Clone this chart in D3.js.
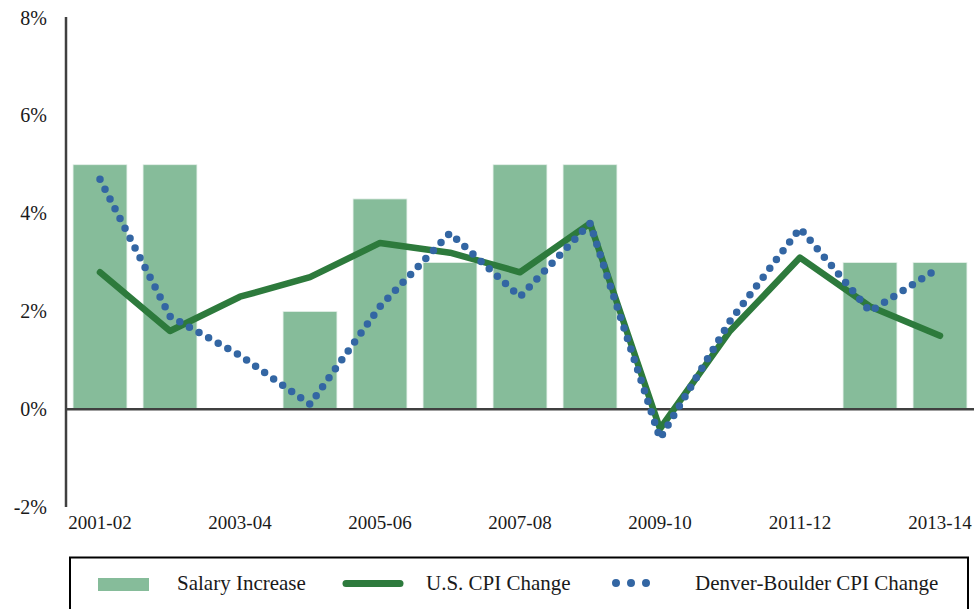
<!DOCTYPE html>
<html><head><meta charset="utf-8">
<script src="https://cdn.jsdelivr.net/npm/d3@7"></script>
<style>body{margin:0;background:#fff;} text{font-family:"Liberation Serif","DejaVu Serif",serif;fill:#1a1a1a;}</style>
</head><body><svg id="c" width="974" height="609"></svg>
<script>
const categories = ["2001-02","2002-03","2003-04","2004-05","2005-06","2006-07","2007-08","2008-09","2009-10","2010-11","2011-12","2012-13","2013-14"];
const salaryIncrease = [5,5,0,2,4.3,3,5,5,0,0,0,3,3];
const usCPI = [2.8,1.6,2.3,2.7,3.4,3.2,2.8,3.8,-0.4,1.6,3.1,2.1,1.5];
const denverCPI = [4.7,1.9,1.1,0.1,2.1,3.6,2.3,3.8,-0.6,1.8,3.7,2.0,2.9];
const yTicks = [-2,0,2,4,6,8];
const xTickLabels = ["2001-02","2003-04","2005-06","2007-08","2009-10","2011-12","2013-14"];

const svg = d3.select("#c");
const x = d3.scaleBand().domain(categories).range([65,975]).paddingInner(0.23).paddingOuter(0.115);
const xc = d => x(d) + x.bandwidth()/2;
const y = d3.scaleLinear().domain([-2,8]).range([507,18]);

// bars
svg.append("g").selectAll("rect").data(categories.map((c,i)=>({c,v:salaryIncrease[i]})).filter(d=>d.v>0))
 .join("rect").attr("x",d=>x(d.c)).attr("width",x.bandwidth())
 .attr("y",d=>y(d.v)).attr("height",d=>y(0)-y(d.v))
 .attr("fill","#86bc9a").attr("stroke","#e6f0ea").attr("stroke-width",0.8);

// y axis
const ya = d3.axisLeft(y).tickValues(yTicks).tickFormat(d=>d+"%").tickSize(0).tickPadding(19);
const yg = svg.append("g").attr("transform","translate(66,0)").call(ya);
yg.select(".domain").attr("stroke","#404040").attr("stroke-width",2.5).attr("d","M0,17V507");
yg.selectAll("text").attr("font-size",20).attr("fill","#1a1a1a").attr("font-family","Liberation Serif").attr("dy","0.3em");

// zero line
svg.append("line").attr("x1",65).attr("x2",975).attr("y1",y(0)).attr("y2",y(0)).attr("stroke","#404040").attr("stroke-width",2.5);

// x axis labels
const xa = d3.axisBottom(x).tickValues(xTickLabels).tickSize(0).tickPadding(0);
const xg = svg.append("g").attr("transform","translate(0,514)").call(xa);
xg.select(".domain").remove();
xg.selectAll("text").attr("font-size",19).attr("fill","#1a1a1a").attr("font-family","Liberation Serif").attr("dy","0.8em");

const line = d3.line().x((d,i)=>xc(categories[i])).y(d=>y(d));
svg.append("path").datum(usCPI).attr("d",line).attr("fill","none").attr("stroke","#2d7a3c").attr("stroke-width",6.5).attr("stroke-linejoin","round").attr("stroke-linecap","round");
svg.append("path").datum(denverCPI).attr("d",line).attr("fill","none").attr("stroke","#3366a3").attr("stroke-width",7.5).attr("stroke-dasharray","0 11").attr("stroke-linecap","round");

// legend
const lg = svg.append("g");
lg.append("rect").attr("x",70).attr("y",557.5).attr("width",898).attr("height",60).attr("fill","none").attr("stroke","#000").attr("stroke-width",2);
lg.append("rect").attr("x",98).attr("y",578).attr("width",51).attr("height",13).attr("fill","#86bc9a");
lg.append("text").attr("x",177).attr("y",590).attr("font-size",21).text("Salary Increase");
lg.append("line").attr("x1",346).attr("x2",400).attr("y1",583.5).attr("y2",583.5).attr("stroke","#2d7a3c").attr("stroke-width",7).attr("stroke-linecap","round");
lg.append("text").attr("x",426).attr("y",590).attr("font-size",21).text("U.S. CPI Change");
lg.append("line").attr("x1",616).attr("x2",661).attr("y1",583).attr("y2",583).attr("stroke","#3366a3").attr("stroke-width",8).attr("stroke-dasharray","0 15").attr("stroke-linecap","round");
lg.append("text").attr("x",695).attr("y",590).attr("font-size",21).text("Denver-Boulder CPI Change");
</script></body></html>
